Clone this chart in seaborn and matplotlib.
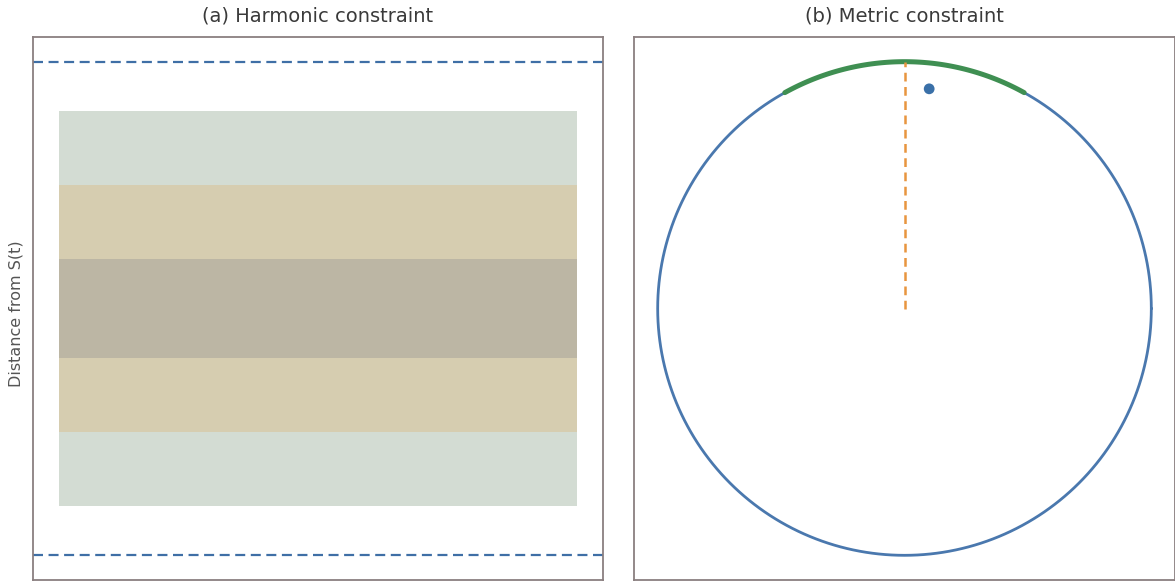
import numpy as np
import pandas as pd
import matplotlib
matplotlib.use("Agg")
import matplotlib.pyplot as plt
import seaborn as sns

sns.set_style("white")
plt.rcParams["font.family"] = ["DejaVu Sans"]

# Harmonic panel: tolerance bands around S(t) (half-widths) and outer bound
band_halfwidths = [0.8, 0.5, 0.2]
band_colors = ["#d3dcd3", "#d6cdb0", "#bcb6a4"]
band_x = [0.045, 0.955]
outer_bound = 1.0

# Metric panel: unit circle, allowed arc around the top (degrees), and the current point
allowed_arc_deg = [61.0, 119.0]
reference_angle_deg = 90.0
point_xy = [0.10, 0.89]

blue = "#4a78ae"
orange = "#e8953f"
green = "#3f8f52"
spine_color = "#8a7f80"
title_color = "#3a3a3a"

fig = plt.figure(figsize=(11.75, 5.82), dpi=100)
W, H = 1175, 582
ax1 = fig.add_axes([33 / W, 2 / H, 570 / W, 543 / H])
ax2 = fig.add_axes([633 / W, 2 / H, 543 / W, 543 / H])

# (a) Harmonic constraint
for hw, col in zip(band_halfwidths, band_colors):
    ax1.fill_between(band_x, [-hw, -hw], [hw, hw], color=col, linewidth=0, zorder=1)
bounds = pd.DataFrame({"x": [0, 1, 0, 1],
                       "y": [outer_bound, outer_bound, -outer_bound, -outer_bound],
                       "side": ["upper", "upper", "lower", "lower"]})
sns.lineplot(data=bounds, x="x", y="y", units="side", estimator=None,
             color="#3f6fa6", linestyle=(0, (4.5, 2.5)), linewidth=1.6, ax=ax1)
ax1.set_xlim(0, 1)
ax1.set_ylim(-1.1, 1.1)
ax1.set_xticks([])
ax1.set_yticks([])
ax1.set_xlabel("")
ax1.set_ylabel("Distance from S(t)", fontsize=11.5, color="#555555")
ax1.yaxis.set_label_coords(-0.017, 0.49)
ax1.set_title("(a) Harmonic constraint", fontsize=14, color=title_color, pad=11)

# (b) Metric constraint
theta = np.linspace(0, 2 * np.pi, 721)
circle = pd.DataFrame({"x": np.cos(theta), "y": np.sin(theta), "i": np.arange(theta.size)})
sns.lineplot(data=circle, x="x", y="y", sort=False, estimator=None,
             color=blue, linewidth=2.0, ax=ax2)
arc_t = np.deg2rad(np.linspace(allowed_arc_deg[0], allowed_arc_deg[1], 121))
arc = pd.DataFrame({"x": np.cos(arc_t), "y": np.sin(arc_t)})
sns.lineplot(data=arc, x="x", y="y", sort=False, estimator=None,
             color=green, linewidth=3.6, ax=ax2)
ref = np.deg2rad(reference_angle_deg)
ref_line = pd.DataFrame({"x": [0, np.cos(ref)], "y": [0, np.sin(ref)]})
sns.lineplot(data=ref_line, x="x", y="y", sort=False, estimator=None,
             color=orange, linestyle=(0, (3.5, 2.2)), linewidth=1.8, ax=ax2)
sns.scatterplot(x=[point_xy[0]], y=[point_xy[1]], color="#3a70a8", s=60,
                edgecolor="none", ax=ax2, zorder=5)
ax2.set_xlim(-1.095, 1.095)
ax2.set_ylim(-1.1, 1.1)
ax2.set_aspect("equal", adjustable="box")
ax2.set_xticks([])
ax2.set_yticks([])
ax2.set_xlabel("")
ax2.set_ylabel("")
ax2.set_title("(b) Metric constraint", fontsize=14, color=title_color, pad=11)

for ax in (ax1, ax2):
    for s in ax.spines.values():
        s.set_color(spine_color)
        s.set_linewidth(1.3)
        s.set_visible(True)

fig.savefig("out.png", dpi=100, facecolor="white")
